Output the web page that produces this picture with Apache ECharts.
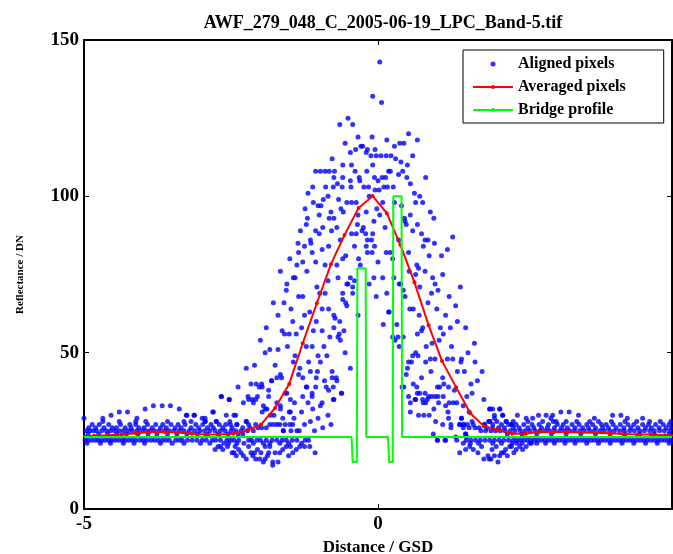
<!DOCTYPE html>
<html>
<head>
<meta charset="utf-8">
<script src="https://cdn.jsdelivr.net/npm/echarts@6/dist/echarts.min.js"></script>
<style>
html, body { margin: 0; padding: 0; background: #fff; }
#chart { width: 673px; height: 554px; }
</style>
</head>
<body>
<div id="chart"></div>
<script>
// averaged pixels (red line)
var avgX = [-5.07, -4.83, -4.59, -4.36, -4.12, -3.88, -3.64, -3.41, -3.17, -2.93, -2.70, -2.46, -2.22, -1.99,
    -1.75, -1.51, -1.28, -1.04, -0.80, -0.57, -0.33, -0.09, 0.15, 0.38, 0.62, 0.86, 1.09, 1.33, 1.57,
    1.80, 2.04, 2.28, 2.51, 2.75, 2.99, 3.22, 3.46, 3.70, 3.93, 4.17, 4.41, 4.64, 4.88, 5.12];
var avgY = [23.3, 23.4, 23.6, 23.8, 24.2, 24.6, 24.7, 24.5, 24.1, 23.8, 23.8, 24.1, 25.2, 27.0,
    32.3, 40.0, 53.0, 65.8, 78.3, 87.6, 96.3, 100.1, 94.6, 84.5, 72.5, 58.8, 47.3, 38.9, 30.6,
    26.5, 25.3, 24.1, 24.1, 24.7, 24.6, 24.6, 24.5, 24.4, 24.2, 24.0, 23.8, 23.8, 23.6, 23.5];

// bridge profile (green line)
var bridgeX = [-5, -0.45, -0.43, -0.36, -0.35, -0.21, -0.20, 0.17, 0.19, 0.25, 0.26, 0.40, 0.41, 5];
var bridgeY = [23, 23, 15, 15, 77, 77, 23, 23, 15, 15, 100, 100, 23, 23];

// aligned pixels in the flat tails, one row per DN value
var tailRows = [
    [22, [-4.98, -4.93, -4.87, -4.81, -4.76, -4.70, -4.64, -4.58, -4.53, -4.47, -4.41, -4.35, -4.30, -4.24,
        -4.18, -4.12, -4.05, -3.99, -3.93, -3.86, -3.80, -3.74, -3.67, -3.61, -3.55, -3.44, -3.38, -3.33,
        -3.24, -3.16, -3.08, -2.99, -2.92, -2.82, -2.76, -2.68, -2.57, -2.51, -2.45, -2.37, -2.20, -2.15,
        -2.06, -2.00, -1.90, -1.80, -1.72, -1.63, -1.56, -1.46, -1.38, -1.24, -1.18,
        1.01, 1.14, 1.34, 1.50, 1.58, 1.66, 1.74, 1.82, 1.90, 1.98, 2.06, 2.14, 2.22, 2.30, 2.36, 2.42,
        2.48, 2.54, 2.60, 2.66, 2.72, 2.78, 2.84, 2.90, 2.96, 3.02, 3.08, 3.14, 3.20, 3.26, 3.32, 3.38,
        3.44, 3.50, 3.56, 3.62, 3.68, 3.74, 3.80, 3.86, 3.92, 3.98, 4.04, 4.10, 4.16, 4.22, 4.28, 4.34,
        4.40, 4.46, 4.52, 4.58, 4.64, 4.70, 4.76, 4.82, 4.88, 4.94, 4.99]],
    [21, [-4.95, -4.72, -4.55, -4.33, -4.15, -3.97, -3.70, -3.50, -3.30, -3.02, -2.86, -2.62, -2.40, -2.28,
        -2.12, -1.95, -1.84, -1.67, -1.52, -1.30,
        1.57, 1.71, 1.95, 2.10, 2.28, 2.45, 2.58, 2.70, 2.85, 3.00, 3.18, 3.35, 3.55, 3.75, 3.95, 4.15,
        4.35, 4.55, 4.75, 4.95]],
    [24, [-4.93, -4.75, -4.60, -4.44, -4.28, -4.08, -3.91, -3.76, -3.58, -3.42, -3.25, -3.07, -2.90, -2.72,
        -2.55, -2.38, -2.30,
        0.94, 1.49, 2.20, 2.45, 2.70, 2.95, 3.20, 3.45, 3.70, 3.95, 4.20, 4.45, 4.70, 4.95]],
    [25, [-4.96, -4.90, -4.84, -4.79, -4.70, -4.62, -4.55, -4.48, -4.40, -4.33, -4.25, -4.18, -4.10, -4.02,
        -3.95, -3.88, -3.80, -3.72, -3.63, -3.55, -3.47, -3.38, -3.30, -3.21, -3.12, -3.03, -2.95, -2.86,
        -2.77, -2.68, -2.60, -2.50, -2.42, -2.33, -2.22, -2.12, -1.61, -1.48, -1.38, -1.34,
        1.75, 1.83, 1.92, 2.00, 2.08, 2.16, 2.25, 2.33, 2.42, 2.50, 2.58, 2.67, 2.75, 2.84, 2.92, 3.00,
        3.09, 3.17, 3.26, 3.34, 3.43, 3.51, 3.60, 3.68, 3.77, 3.85, 3.94, 4.02, 4.11, 4.19, 4.28, 4.36,
        4.45, 4.53, 4.62, 4.70, 4.79, 4.87, 4.96]],
    [26, [-4.92, -4.80, -4.66, -4.52, -4.45, -4.30, -4.20, -4.07, -3.98, -3.84, -3.70, -3.60, -3.45, -3.35,
        -3.18, -3.05, -2.90, -2.80, -2.64, -2.48, -2.30, -2.18, -2.04, -1.98, -1.90,
        1.24, 1.45, 1.55, 1.65, 1.72, 1.85, 1.95, 2.05, 2.15, 2.30, 2.40, 2.55, 2.65, 2.78, 2.88, 3.00,
        3.12, 3.22, 3.35, 3.48, 3.58, 3.70, 3.82, 3.92, 4.05, 4.18, 4.30, 4.42, 4.55, 4.65, 4.78, 4.90, 4.99]],
    [27, [-4.86, -4.74, -4.58, -4.38, -4.22, -4.12, -3.92, -3.78, -3.66, -3.52, -3.40, -3.28, -3.10, -2.98,
        -2.84, -2.70, -2.59, -2.51, -2.40, -2.20, -2.08, -1.84, -1.78, -1.72, -1.67, -1.58, -1.50, -1.45,
        1.24, 1.39, 1.46, 1.52, 1.62, 1.81, 1.95, 2.10, 2.22, 2.27, 2.35, 2.48, 2.62, 2.74, 2.90, 3.05,
        3.15, 3.30, 3.42, 3.55, 3.65, 3.80, 3.88, 4.00, 4.12, 4.25, 4.35, 4.50, 4.60, 4.72, 4.85, 4.95]],
    [28, [-4.68, -4.40, -4.12, -3.95, -3.58, -3.30, -3.18, -2.94, -2.75, -2.52, -2.24,
        1.60, 1.88, 1.90, 2.02, 2.18, 2.30, 2.55, 2.80, 2.98, 3.03, 3.20, 3.38, 3.60, 3.75, 3.97, 4.20,
        4.40, 4.62, 4.80, 4.98]]
];

// aligned pixels off the main rows: sparse tails and the spread round the bridge
var alignedPoints = [
    [-5.0, 29], [-4.68, 29], [-4.54, 30], [-4.40, 31], [-4.26, 31], [-4.10, 29], [-3.96, 32], [-3.82, 33],
    [-3.67, 33], [-3.53, 33], [-3.38, 32], [-3.25, 30], [-3.13, 30], [-2.94, 29], [-2.80, 31], [-2.66, 36],
    [-2.58, 30], [-2.53, 35], [-2.45, 30], [-2.42, 30], [-2.38, 39], [-2.29, 34], [-2.21, 36], [-2.12, 34],
    [-2.08, 35], [-1.97, 31], [-1.92, 32], [-1.86, 36], [-1.81, 41], [-1.66, 32], [-1.77, 30], [-1.49, 35],
    [-1.49, 31], [-1.28, 36], [-1.21, 39], [-1.12, 36], [-1.06, 39], [-0.95, 34], [-0.84, 38], [-0.75, 35],
    [-0.70, 41], [-0.62, 37], [-1.02, 29], [-0.94, 26],
    [-2.77, 19], [-2.72, 20], [-2.64, 19], [-2.56, 20], [-2.54, 21], [-2.48, 18], [-2.43, 20], [-2.41, 17],
    [-2.45, 18], [-2.33, 18], [-2.29, 17], [-2.24, 16], [-2.16, 18], [-2.10, 18], [-2.08, 16], [-2.01, 16],
    [-1.99, 18], [-1.92, 20], [-1.92, 16], [-1.88, 17], [-1.86, 18], [-1.79, 14], [-1.79, 15], [-1.70, 15],
    [-1.75, 18], [-1.67, 18], [-1.56, 20], [-1.52, 17], [-1.49, 20], [-1.39, 19], [-1.25, 20], [-1.16, 20],
    [-1.07, 18], [-2.68, 20], [-2.37, 19], [-2.20, 20], [-2.05, 19], [-1.84, 20], [-1.62, 19], [-1.45, 18],
    [-1.33, 20], [-1.95, 15], [-2.13, 17],
    [1.39, 18], [1.49, 19], [1.56, 20], [1.70, 18], [1.80, 16], [1.87, 17], [1.89, 16], [1.92, 16],
    [1.98, 17], [2.01, 20], [2.07, 17], [2.10, 18], [2.14, 18], [2.17, 19], [2.24, 20], [2.27, 20],
    [2.35, 19], [2.36, 21], [2.41, 20], [2.52, 20], [2.61, 21], [1.32, 23], [1.51, 23],
    [1.62, 19], [1.76, 20], [1.94, 19], [2.04, 15], [2.20, 17], [2.31, 18], [2.46, 19], [1.45, 21],
    [1.42, 29], [1.98, 29], [2.07, 32], [2.12, 30], [1.90, 32], [1.95, 32], [2.37, 30], [2.52, 29],
    [2.63, 29], [2.73, 30], [2.86, 30], [2.94, 29], [2.97, 30], [3.11, 31], [3.25, 31], [3.41, 30],
    [3.68, 29], [3.99, 30], [4.13, 30], [4.24, 29], [4.50, 29],
    [0.03, 143], [-0.09, 132], [0.06, 130], [-0.51, 125], [-0.65, 123], [-0.43, 123], [0.52, 120],
    [-0.34, 119], [-0.10, 119], [0.67, 118], [-0.56, 117], [0.37, 117], [0.44, 117], [0.28, 116],
    [-0.29, 116], [-0.26, 116], [-0.38, 115], [-0.18, 115], [-0.47, 114], [-0.20, 114],
    [-0.12, 113], [-0.03, 113], [0.05, 113], [0.14, 113], [0.22, 113], [0.59, 113],
    [-0.78, 112], [0.30, 112], [0.39, 111], [-0.09, 110], [-0.60, 110], [0.50, 110],
    [-1.06, 108], [-0.98, 108], [-0.90, 108], [-0.83, 108], [-0.74, 108], [-0.39, 108], [-0.19, 108],
    [0.18, 108], [0.21, 108], [0.42, 108], [0.35, 107], [0.81, 106], [-0.75, 106], [-0.60, 106],
    [-0.32, 106], [-0.06, 106], [0.07, 106], [0.13, 106], [0.49, 106], [-0.47, 105], [-0.31, 105], [0.00, 105],
    [-1.11, 103], [-0.89, 103], [-0.76, 103], [-0.61, 103], [-0.46, 103], [-0.24, 103], [-0.16, 103],
    [0.10, 103], [0.16, 103], [0.26, 103], [-0.69, 104], [-0.05, 102], [0.02, 102], [0.62, 101], [-1.19, 101],
    [-0.93, 99], [-0.67, 99], [-0.15, 100], [0.71, 100],
    [-1.10, 98], [-0.53, 98], [-0.45, 98], [-0.37, 98], [0.08, 98], [0.64, 98], [0.76, 98],
    [-1.02, 97], [-0.97, 97], [-1.24, 96], [-0.63, 96], [-0.02, 96],
    [-0.80, 95], [-0.59, 95], [-0.20, 95], [0.89, 95], [-0.34, 94], [0.03, 94],
    [-0.83, 93], [-0.75, 93], [0.45, 93], [0.55, 94], [0.95, 93],
    [-0.07, 92], [-0.35, 91], [-0.25, 90], [0.46, 92], [0.48, 91], [-0.94, 90], [0.67, 91],
    [-1.32, 89], [-1.06, 89], [-0.79, 89], [-0.70, 90], [-0.27, 89], [-0.21, 88], [0.59, 89], [-1.22, 91],
    [-1.00, 88], [-0.45, 88], [-0.37, 88], [-0.09, 88], [0.74, 88],
    [-1.15, 86], [-0.64, 86], [-0.18, 86], [-0.11, 86], [0.80, 86], [0.85, 86], [0.96, 85],
    [-1.36, 85], [-1.14, 85], [-0.84, 84], [-0.20, 84], [-0.06, 84], [0.77, 84], [1.27, 87], [1.18, 83],
    [-1.12, 82], [-0.55, 81], [-0.60, 80], [-0.18, 82], [-0.10, 82], [0.14, 82], [0.21, 82], [0.52, 82],
    [0.87, 81], [1.08, 81],
    [-1.50, 80], [-1.28, 79], [-1.06, 79], [-1.38, 78], [-0.90, 78], [-0.33, 80], [0.00, 79], [0.66, 78],
    [0.69, 77], [-1.66, 76], [-1.21, 76], [0.80, 76], [0.53, 76], [0.64, 75],
    [-1.44, 74], [-1.41, 74], [-0.68, 74], [-0.47, 74], [-0.07, 74], [0.27, 74], [0.93, 74], [1.10, 75],
    [-0.85, 73], [-0.70, 78], [-0.95, 83], [-1.25, 84], [-0.40, 84], [-0.30, 78], [-0.15, 72], [0.08, 74],
    [0.25, 80], [0.35, 86], [0.40, 97], [0.55, 104], [0.28, 98], [0.12, 90], [-0.05, 115], [0.15, 118],
    [-0.45, 110], [-0.85, 100], [-1.00, 94], [-1.20, 93], [-1.35, 82], [-1.55, 72], [-1.60, 66],
    [-1.56, 70], [-1.35, 68], [-1.28, 68], [-1.04, 71], [-1.78, 66], [-1.48, 64], [-1.16, 63], [-1.25, 62],
    [-1.70, 62], [-0.53, 72], [-0.51, 72], [-0.40, 73], [-0.99, 69], [-0.90, 69], [-0.84, 64], [-0.75, 62],
    [-0.60, 69], [-0.55, 66], [-0.43, 71], [-0.43, 69], [-0.60, 67], [-0.53, 65], [-0.34, 62], [-0.03, 68],
    [-0.73, 61], [-0.75, 58], [-1.45, 60], [-1.30, 58], [-1.05, 60], [-0.95, 64], [-0.65, 60], [-0.58, 57],
    [-1.63, 57], [-1.59, 56], [-1.51, 56], [-1.39, 56], [-1.10, 57], [-0.95, 57], [-0.68, 55], [-0.64, 54],
    [-0.66, 56], [-1.54, 52], [-1.22, 52], [-1.12, 52], [-1.84, 51], [-1.92, 50], [-1.41, 49], [-1.44, 47],
    [-1.02, 49], [-0.87, 49], [-0.98, 47], [-0.56, 50], [-0.47, 45], [-1.90, 58], [-2.00, 54], [-1.70, 51],
    [-0.92, 52], [-0.82, 55], [-1.33, 45], [-1.18, 47],
    [-2.10, 46], [-2.24, 45], [-1.75, 46], [-1.66, 43], [-1.72, 42], [-1.64, 42], [-1.35, 43], [-1.15, 44],
    [-1.03, 44], [-0.91, 41], [-0.78, 42], [-0.71, 42], [-1.28, 42], [-1.05, 42], [-1.81, 41], [-0.78, 44],
    [-2.16, 40], [-2.07, 40], [-2.02, 39], [-1.98, 40], [-1.97, 39], [-1.86, 38], [-1.58, 37], [-1.55, 37],
    [-1.22, 39], [-1.12, 37], [-0.88, 39], [-0.76, 39], [-0.62, 37], [-0.76, 35],
    [-2.67, 36], [-2.53, 35], [-2.20, 35], [-2.14, 35], [-2.05, 36], [-1.89, 32], [-1.72, 34], [-1.66, 33],
    [-1.42, 34], [-1.51, 31], [-1.19, 34], [-1.11, 32], [-1.95, 33], [-1.83, 30], [-1.62, 29], [-1.43, 29],
    [-1.30, 31], [-1.25, 27], [-1.15, 28], [-1.08, 25], [-0.98, 33], [-0.85, 30], [-0.80, 27],
    [-2.81, 31], [-3.26, 30], [-3.12, 30], [-2.99, 29], [-2.94, 28], [-2.75, 28], [-2.40, 27],
    [-1.61, 25], [-2.24, 28],
    [0.36, 72], [0.39, 72], [0.97, 72], [1.02, 70], [0.91, 69], [0.71, 71], [0.43, 70], [0.46, 68],
    [0.15, 69], [1.40, 71], [1.21, 68], [1.32, 65], [0.54, 64], [0.60, 64], [0.19, 63], [0.18, 63],
    [0.09, 59], [0.32, 59], [0.76, 58], [0.74, 57], [0.67, 56], [1.06, 58], [1.11, 56], [1.23, 58],
    [1.49, 58], [1.35, 60], [0.25, 55], [0.29, 54], [0.34, 55], [0.36, 52], [0.43, 55], [1.04, 54],
    [1.00, 64], [1.15, 62], [0.85, 66], [0.70, 62], [0.92, 53], [0.82, 52], [1.25, 52],
    [1.64, 53], [0.64, 50], [0.59, 49], [0.52, 47], [0.50, 45], [0.57, 47], [0.68, 49], [0.81, 47],
    [0.89, 48], [0.97, 48], [0.90, 44], [1.18, 48], [1.27, 48], [1.41, 47], [1.42, 48], [1.53, 50],
    [1.47, 44], [1.77, 44], [0.74, 42], [1.10, 42], [1.12, 40], [1.20, 39], [1.01, 39], [1.05, 39],
    [1.69, 41], [0.41, 39], [0.44, 39], [0.66, 39], [0.67, 37], [0.71, 37], [0.80, 37], [0.63, 35],
    [0.77, 34], [0.81, 34], [0.86, 36], [0.91, 36], [0.97, 36], [1.02, 36], [1.11, 36], [1.03, 34],
    [1.15, 33], [1.21, 34], [1.28, 34], [1.34, 34], [1.51, 36], [0.95, 32], [1.19, 31], [0.55, 31],
    [0.55, 34], [0.64, 35], [0.76, 35], [0.84, 35], [0.69, 30], [0.78, 30], [0.87, 30],
    [1.35, 44], [1.58, 40], [1.60, 37], [1.30, 38], [1.45, 33], [1.55, 31], [1.20, 29], [1.10, 27],
    [0.98, 28], [1.65, 47], [1.80, 35], [0.60, 40], [0.52, 36], [0.48, 43],
    [1.42, 29], [1.39, 27], [1.46, 27], [1.49, 24], [1.01, 22], [1.15, 22],
    [1.81, 27], [1.90, 28], [1.98, 30], [2.07, 32], [2.12, 30], [2.18, 28], [2.27, 27], [1.90, 32]
];

var titleText = 'AWF_279_048_C_2005-06-19_LPC_Band-5.tif';
var xTicks = [-5, 0];
var serif = '"Liberation Serif", "Times New Roman", serif';

var aligned = alignedPoints.slice();
tailRows.forEach(function (row) {
    row[1].forEach(function (x) {
        aligned.push([x, row[0]]);
    });
});

var averaged = avgX.map(function (x, i) { return [x, avgY[i]]; });
var bridge = bridgeX.map(function (x, i) { return [x, bridgeY[i]]; });

var chart = echarts.init(document.getElementById('chart'));

var option = {
    animation: false,
    backgroundColor: '#fff',
    title: {
        text: titleText,
        left: 378,
        textAlign: 'center',
        top: 9,
        textStyle: { fontFamily: serif, fontWeight: 'bold', fontSize: 18, color: '#000' }
    },
    legend: {
        orient: 'vertical',
        left: 463,
        top: 50,
        padding: [5, 38, 4, 9],
        itemGap: 5,
        itemWidth: 40,
        itemHeight: 5,
        borderColor: '#000',
        borderWidth: 1,
        backgroundColor: '#fff',
        textStyle: { fontFamily: serif, fontWeight: 'bold', fontSize: 16, color: '#000', lineHeight: 18 },
        data: [
            { name: 'Aligned pixels', icon: 'circle' },
            'Averaged pixels',
            'Bridge profile'
        ]
    },
    grid: { left: 84, right: 1, top: 40, bottom: 45, containLabel: false, outerBoundsMode: 'none' },
    xAxis: [
        {
            type: 'value',
            min: -5,
            max: 5,
            interval: 5,
            position: 'bottom',
            axisLine: { onZero: false, lineStyle: { color: '#000', width: 2 } },
            axisTick: { inside: true, length: 5, lineStyle: { color: '#000' } },
            splitLine: { show: false },
            axisLabel: {
                fontFamily: serif, fontWeight: 'bold', fontSize: 19, color: '#000', margin: 6,
                formatter: function (v) { return xTicks.indexOf(v) >= 0 ? String(v) : ''; }
            },
            name: 'Distance / GSD',
            nameLocation: 'middle',
            nameGap: 28,
            nameTextStyle: { fontFamily: serif, fontWeight: 'bold', fontSize: 17, color: '#000' }
        },
        {
            type: 'value',
            min: -5,
            max: 5,
            interval: 5,
            position: 'top',
            axisLine: { onZero: false, lineStyle: { color: '#000', width: 2 } },
            axisTick: { inside: true, length: 5, lineStyle: { color: '#000' } },
            splitLine: { show: false },
            axisLabel: { show: false }
        }
    ],
    yAxis: [
        {
            type: 'value',
            min: 0,
            max: 150,
            interval: 50,
            position: 'left',
            axisLine: { onZero: false, lineStyle: { color: '#000', width: 2 } },
            axisTick: { inside: true, length: 5, lineStyle: { color: '#000' } },
            splitLine: { show: false },
            axisLabel: { fontFamily: serif, fontWeight: 'bold', fontSize: 19, color: '#000', margin: 5 },
            name: 'Reflectance / DN',
            nameLocation: 'middle',
            nameRotate: 90,
            nameGap: 58,
            nameTextStyle: { fontFamily: serif, fontWeight: 'bold', fontSize: 11, color: '#000' }
        },
        {
            type: 'value',
            min: 0,
            max: 150,
            interval: 50,
            position: 'right',
            axisLine: { onZero: false, lineStyle: { color: '#000', width: 2 } },
            axisTick: { inside: true, length: 5, lineStyle: { color: '#000' } },
            splitLine: { show: false },
            axisLabel: { show: false }
        }
    ],
    series: [
        {
            name: 'Aligned pixels',
            type: 'scatter',
            data: aligned,
            symbol: 'circle',
            symbolSize: 5,
            itemStyle: { color: '#0000ff' },
            z: 1
        },
        {
            name: 'Averaged pixels',
            type: 'line',
            data: averaged,
            symbol: 'circle',
            symbolSize: 4,
            showSymbol: true,
            lineStyle: { color: '#ff0000', width: 2 },
            itemStyle: { color: '#ff0000' },
            z: 2
        },
        {
            name: 'Bridge profile',
            type: 'line',
            data: bridge,
            symbol: 'none',
            lineStyle: { color: '#00ff00', width: 2 },
            itemStyle: { color: '#00ff00' },
            z: 3
        }
    ]
};

chart.setOption(option);
</script>
</body>
</html>
